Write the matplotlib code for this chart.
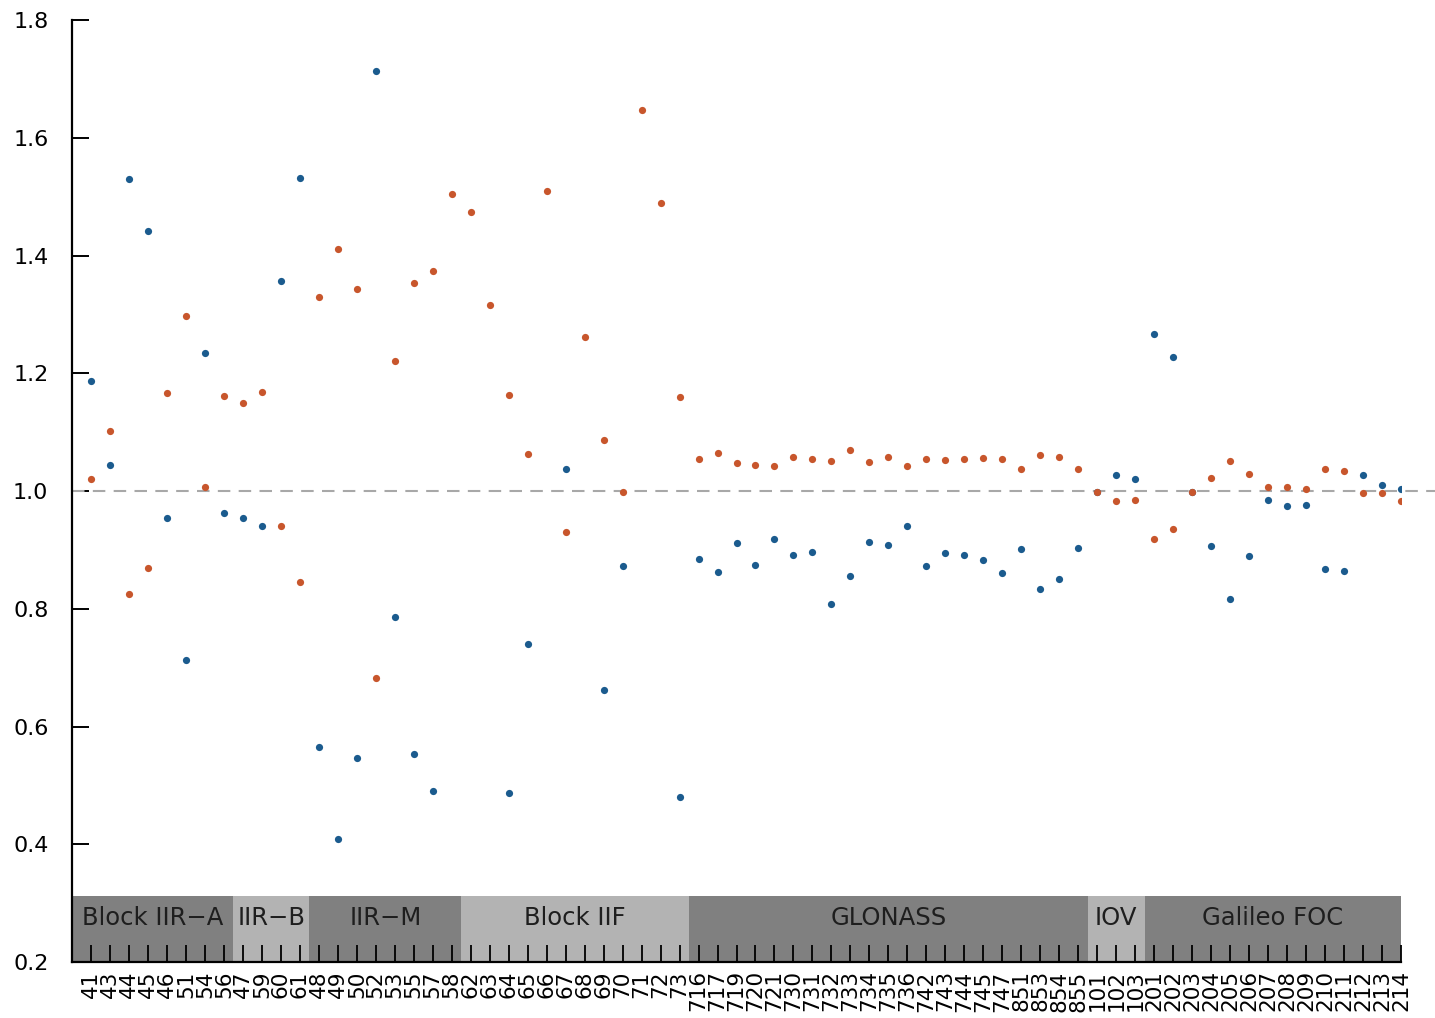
import matplotlib
matplotlib.use("Agg")
import matplotlib.pyplot as plt
import numpy as np

nan = np.nan

# satellite ids along the x axis
sats = ['41', '43', '44', '45', '46', '51', '54', '56',
        '47', '59', '60', '61',
        '48', '49', '50', '52', '53', '55', '57', '58',
        '62', '63', '64', '65', '66', '67', '68', '69', '70', '71', '72', '73',
        '716', '717', '719', '720', '721', '730', '731', '732', '733', '734',
        '735', '736', '742', '743', '744', '745', '747', '851', '853', '854', '855',
        '101', '102', '103',
        '201', '202', '203', '204', '205', '206', '207', '208', '209', '210',
        '211', '212', '213', '214']

groups = ['Block IIR\u2212A', 'IIR\u2212B', 'IIR\u2212M', 'Block IIF',
          'GLONASS', 'IOV', 'Galileo FOC']
group_sizes = [8, 4, 8, 12, 21, 3, 14]

blue = [1.187, 1.045, 1.530, 1.442, 0.955, 0.713, 1.234, 0.963,
        0.955, 0.940, 1.357, 1.532,
        0.566, 0.409, 0.546, 1.713, 0.786, 0.554, 0.490, nan,
        nan, nan, 0.487, 0.740, nan, 1.037, nan, 0.662, 0.873, nan, nan, 0.481,
        0.885, 0.863, 0.911, 0.875, 0.918, 0.892, 0.897, 0.808, 0.856, 0.914,
        0.908, 0.940, 0.873, 0.894, 0.891, 0.883, 0.860, 0.901, 0.834, 0.851, 0.904,
        0.998, 1.028, 1.021,
        1.267, 1.227, 0.998, 0.907, 0.816, 0.890, 0.984, 0.975, 0.977, 0.867,
        0.864, 1.028, 1.011, 1.003]

orange = [1.020, 1.102, 0.825, 0.870, 1.166, 1.297, 1.007, 1.161,
          1.149, 1.168, 0.940, 0.845,
          1.330, 1.411, 1.343, 0.682, 1.221, 1.353, 1.374, 1.504,
          1.474, 1.316, 1.163, 1.063, 1.510, 0.930, 1.262, 1.086, 0.998, 1.647, 1.489, 1.160,
          1.054, 1.065, 1.048, 1.045, 1.043, 1.057, 1.055, 1.051, 1.070, 1.050,
          1.057, 1.043, 1.055, 1.053, 1.055, 1.056, 1.054, 1.037, 1.061, 1.058, 1.037,
          0.998, 0.983, 0.984,
          0.918, 0.935, 0.998, 1.022, 1.051, 1.029, 1.007, 1.006, 1.003, 1.037,
          1.034, 0.996, 0.997, 0.983]

x = np.arange(1, len(sats) + 1)

fig = plt.figure(figsize=(14.35, 10.18), dpi=100)
ax = fig.add_axes([0.0502, 0.055, 0.9261, 0.9253])

ax.set_xlim(0, len(sats))
ax.set_ylim(0.2, 1.8)

# group bands at the bottom
band_top = 0.312
edges = np.concatenate([[0], np.cumsum(group_sizes) + 0.5])
edges[-1] = len(sats)
for k, name in enumerate(groups):
    lo, hi = edges[k], edges[k + 1]
    col = '#808080' if k % 2 == 0 else '#b3b3b3'
    ax.add_patch(plt.Rectangle((lo, 0.2), hi - lo, band_top - 0.2,
                               facecolor=col, edgecolor='none', zorder=1))
    ax.text((lo + hi) / 2, 0.275, name, ha='center', va='center',
            fontsize=17.5, color='#1e1e1e', zorder=3)

# reference line
ax.plot([0, 1.026], [1.0, 1.0], transform=ax.get_yaxis_transform(),
        color='#a8a8a8', lw=1.5, ls=(0, (6, 4)), clip_on=False, zorder=2)

ax.plot(x, blue, 'o', color='#1b5b8e', ms=5.2, mec='none', zorder=4)
ax.plot(x, orange, 'o', color='#c8562c', ms=5.2, mec='none', zorder=5)

ax.set_xticks(x)
ax.set_xticklabels(sats, rotation=90, fontsize=15.5)
ax.set_yticks(np.arange(0.2, 1.81, 0.2))
ax.set_yticklabels(['%.1f' % v for v in np.arange(0.2, 1.81, 0.2)], fontsize=16)

ax.tick_params(axis='x', direction='in', length=12, width=1.3, pad=6)
ax.tick_params(axis='y', direction='in', length=12, width=1.4, pad=17)

for s in ['top', 'right']:
    ax.spines[s].set_visible(False)
for s in ['left', 'bottom']:
    ax.spines[s].set_linewidth(1.6)

fig.savefig('out.png', dpi=100)
